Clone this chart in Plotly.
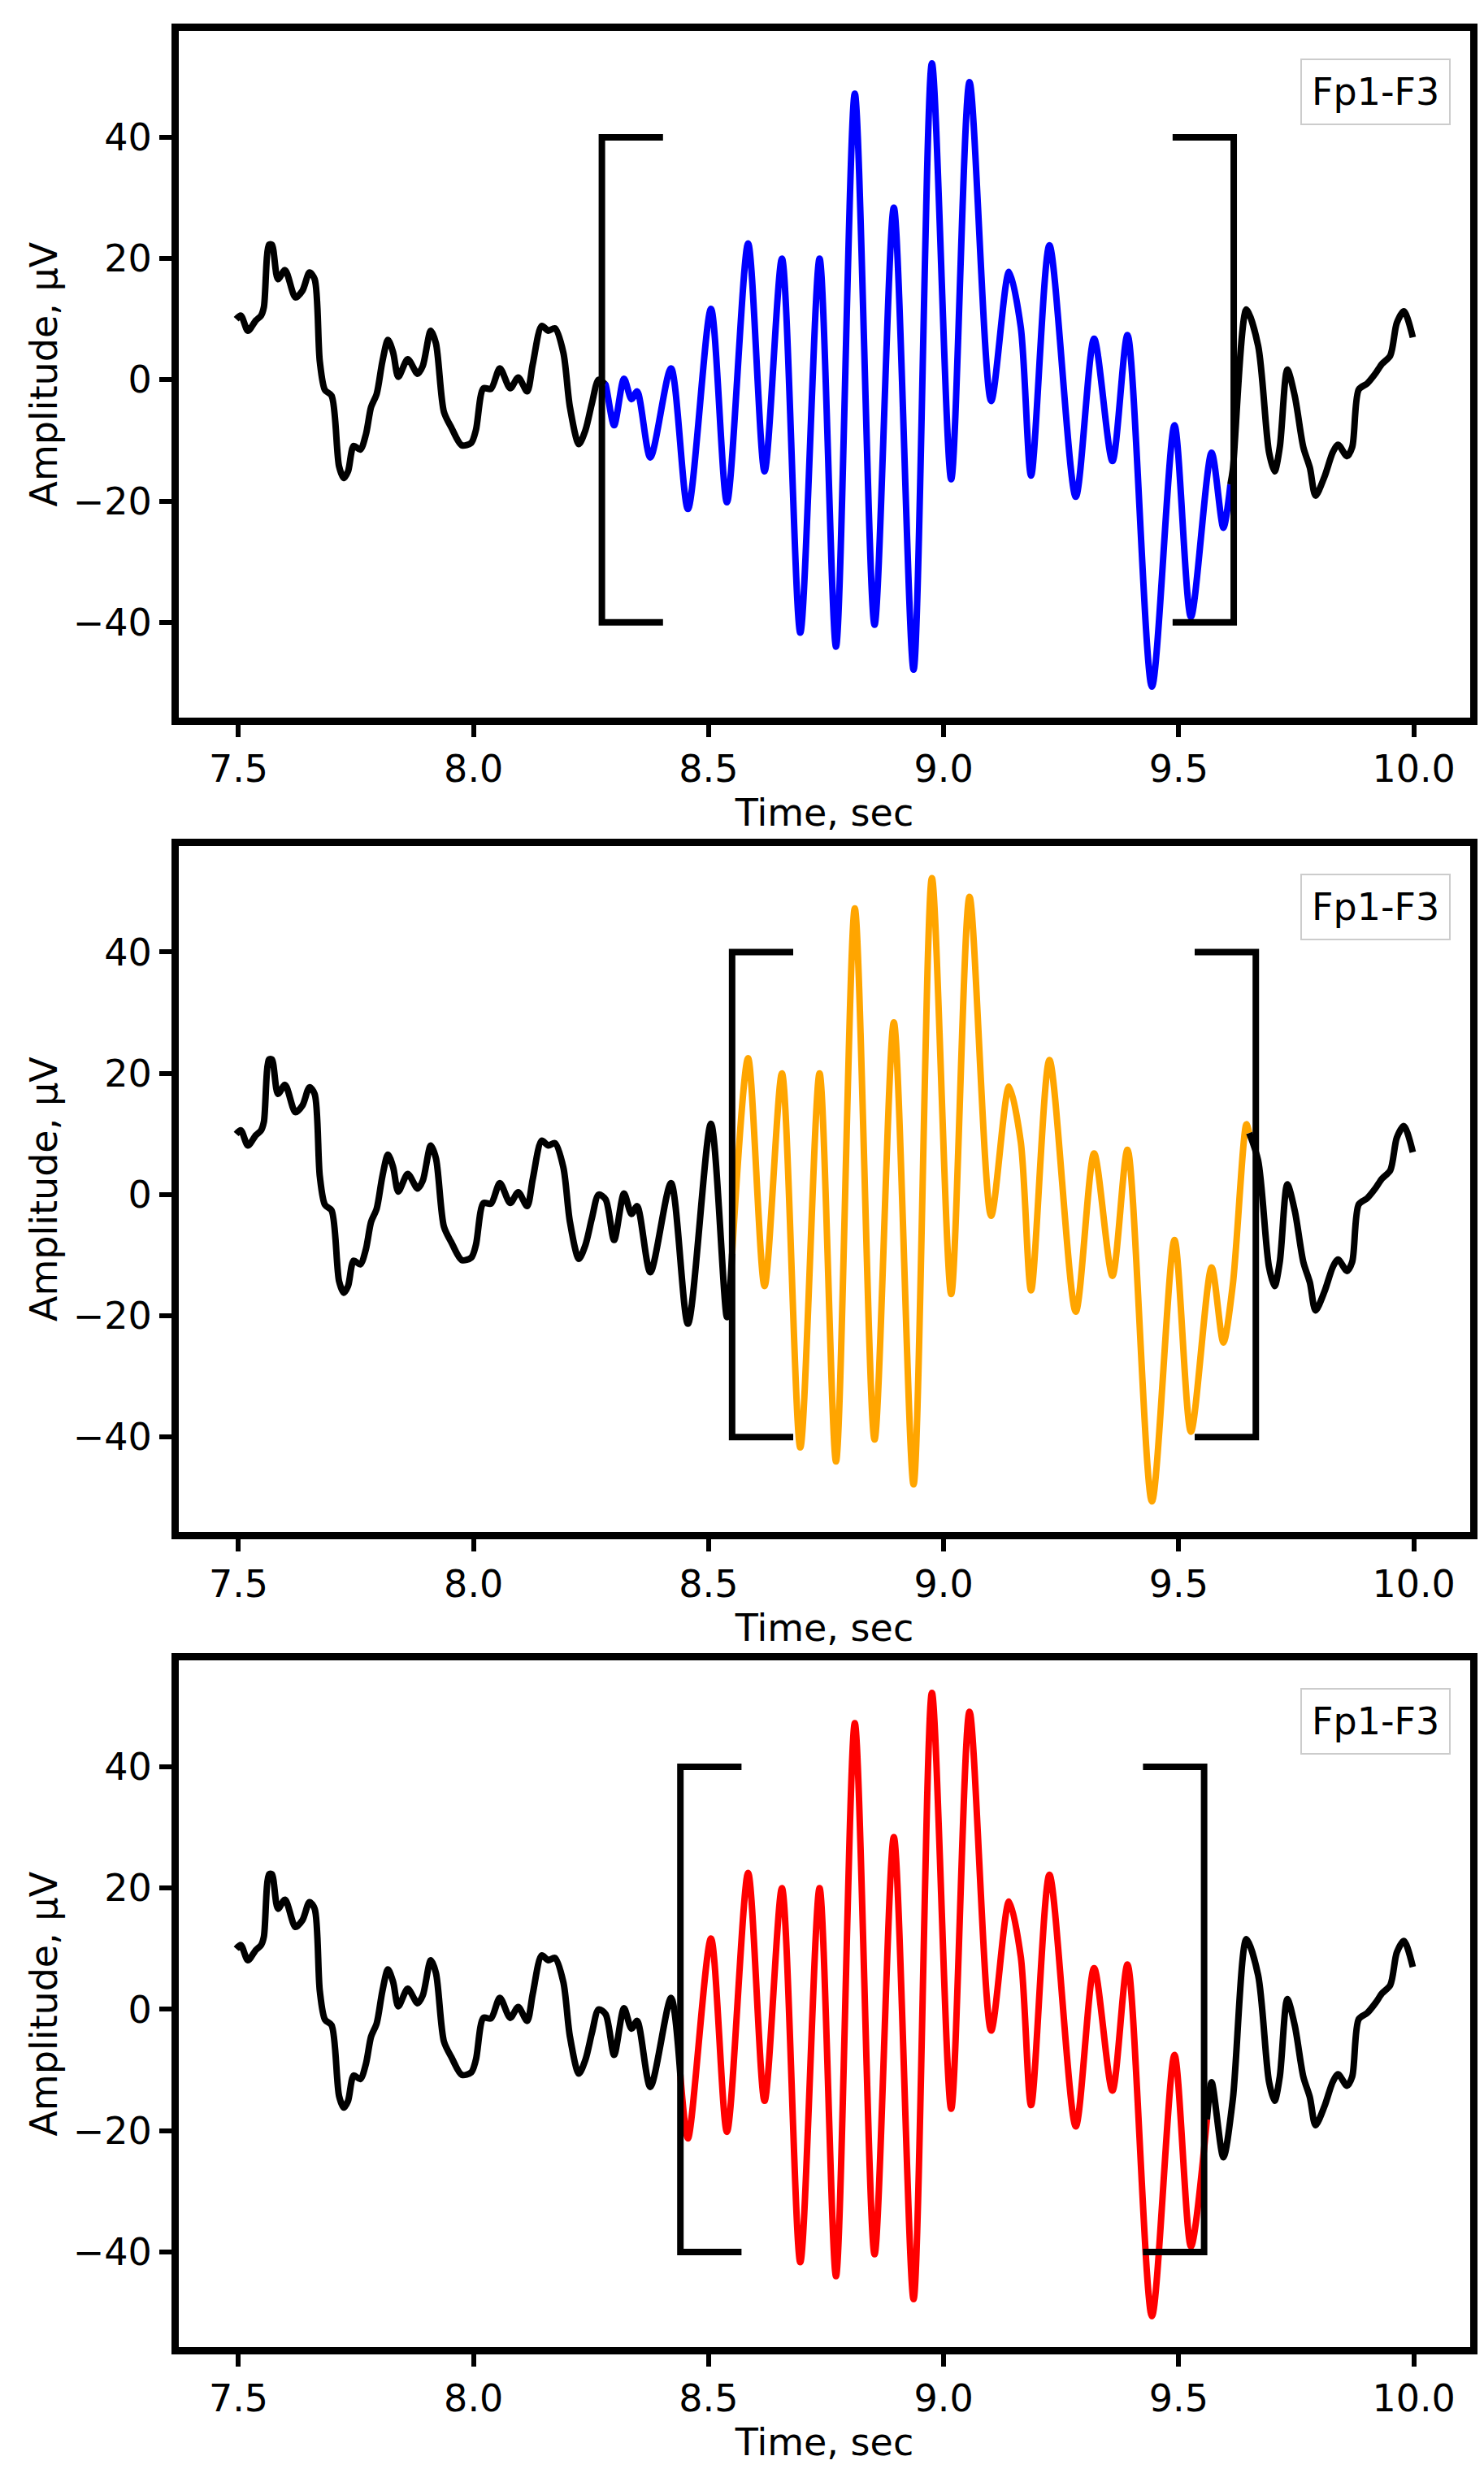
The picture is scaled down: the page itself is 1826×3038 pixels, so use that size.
import numpy as np
import plotly.graph_objects as go
from plotly.subplots import make_subplots

# EEG trace, Fp1-F3 (turning points)
t_sec = [7.495, 7.505, 7.52, 7.537, 7.548, 7.554, 7.565, 7.571, 7.584, 7.599, 7.621, 7.636,
         7.651, 7.662, 7.673, 7.684, 7.698, 7.714, 7.724, 7.733, 7.745, 7.759, 7.771, 7.782,
         7.794, 7.806, 7.818, 7.829, 7.84, 7.86, 7.881, 7.892, 7.909, 7.92, 7.937, 7.953,
         7.975, 7.995, 8.005, 8.021, 8.037, 8.056, 8.078, 8.095, 8.114, 8.126, 8.145, 8.159,
         8.173, 8.191, 8.205, 8.224, 8.238, 8.252, 8.266, 8.281, 8.299, 8.32, 8.336, 8.348,
         8.376, 8.42, 8.456, 8.505, 8.539, 8.584, 8.619, 8.656, 8.695, 8.736, 8.771, 8.811,
         8.853, 8.894, 8.936, 8.975, 9.016, 9.055, 9.101, 9.139, 9.164, 9.186, 9.225, 9.281,
         9.32, 9.359, 9.391, 9.443, 9.491, 9.526, 9.57, 9.595, 9.615, 9.644, 9.669, 9.692,
         9.704, 9.715, 9.731, 9.747, 9.765, 9.779, 9.791, 9.81, 9.828, 9.839, 9.858, 9.869,
         9.883, 9.901, 9.919, 9.932, 9.95, 9.964, 9.979, 9.998]
amp_uv = [10, 10.6, 8.1, 9.8, 10.6, 12, 22.3, 22.3, 16.6, 18.1, 13.6, 14.7,
          17.7, 16.6, 3, -1.7, -2.6, -14.3, -16.2, -15.1, -10.9, -11.5, -9, -4.5,
          -2.3, 3, 6.6, 4.5, 0.5, 3.4, 1, 2.3, 8.1, 6, -5.3, -7.9,
          -10.8, -10.4, -8.3, -1.4, -1.5, 1.9, -1.4, 0.4, -1.9, 2.6, 8.9, 8.1,
          8.5, 4.5, -4.5, -10.6, -8.3, -3.8, 0, -0.8, -7.5, 0.2, -3.2, -1.9,
          -12.8, 1.9, -21.3, 11.7, -20.2, 22.5, -15.1, 20, -41.7, 20, -44, 47.2,
          -40.4, 28.4, -47.8, 52.2, -16.4, 49.1, -3.5, 17.8, 8.7, -15.8, 22.2, -19.3,
          6.8, -13.4, 7.4, -50.6, -7.5, -39.1, -12, -24.4, -14.9, 11.6, 5.6, -11.9,
          -15.1, -11.1, 1.7, -2.7, -11.1, -14.5, -19.1, -16, -11.9, -10.7, -12.6, -11.1,
          -1.6, -0.6, 1.1, 2.6, 4, 9.4, 11.3, 7]

# highlighted windows (start, end) and bracket positions per panel
windows = [(8.28, 9.61), (8.55, 9.65), (8.44, 9.56)]
brackets = [(8.273, 9.617), (8.55, 9.664), (8.44, 9.554)]
colors = ["blue", "orange", "red"]
bracket_arm = 0.13
bracket_lim = [-40, 40]

t = np.array(t_sec)
a = np.array(amp_uv)

def segment(t0, t1):
    m = (t > t0) & (t < t1)
    ts = np.concatenate([[t0], t[m], [t1]])
    ys = np.concatenate([[np.interp(t0, t, a)], a[m], [np.interp(t1, t, a)]])
    return ts, ys

fig = make_subplots(rows=3, cols=1)
domains = [[0.712, 0.990], [0.382, 0.660], [0.052, 0.330]]
LW = 8

for i in range(3):
    row = i + 1
    w0, w1 = windows[i]
    for (s0, s1), c in [((t[0], w0), "black"), ((w0, w1), colors[i]), ((w1, t[-1]), "black")]:
        ts, ys = segment(s0, s1)
        fig.add_trace(go.Scatter(x=ts, y=ys, mode="lines", showlegend=False,
                                 line=dict(color=c, width=LW, shape="spline", smoothing=0.8)),
                      row=row, col=1)
    b0, b1 = brackets[i]
    lo, hi = bracket_lim
    fig.add_trace(go.Scatter(x=[b0 + bracket_arm, b0, b0, b0 + bracket_arm], y=[hi, hi, lo, lo],
                             mode="lines", showlegend=False,
                             line=dict(color="black", width=LW)), row=row, col=1)
    fig.add_trace(go.Scatter(x=[b1 - bracket_arm, b1, b1, b1 - bracket_arm], y=[hi, hi, lo, lo],
                             mode="lines", showlegend=False,
                             line=dict(color="black", width=LW)), row=row, col=1)

    fig.update_xaxes(row=row, col=1, range=[7.373, 10.12], tickvals=[7.5, 8.0, 8.5, 9.0, 9.5, 10.0],
                     ticktext=["7.5", "8.0", "8.5", "9.0", "9.5", "10.0"],
                     showline=True, linecolor="black", linewidth=9, mirror=True,
                     ticks="outside", ticklen=15, tickwidth=6, tickcolor="black",
                     showgrid=False, zeroline=False,
                     title=dict(text="Time, sec", standoff=0, font=dict(size=46)))
    fig.update_yaxes(row=row, col=1, range=[-55.7, 57.5], domain=domains[i],
                     tickvals=[-40, -20, 0, 20, 40], ticktext=["\u221240", "\u221220", "0", "20", "40"],
                     showline=True, linecolor="black", linewidth=9, mirror=True,
                     ticks="outside", ticklen=15, tickwidth=6, tickcolor="black",
                     showgrid=False, zeroline=False,
                     title=dict(text="Amplitude, \u03bcV", standoff=8, font=dict(size=46)))
    xref = "x" if i == 0 else f"x{row}"
    yref = "y" if i == 0 else f"y{row}"
    fig.add_annotation(x=0.985, y=0.96, xref=f"{xref} domain", yref=f"{yref} domain",
                       xanchor="right", yanchor="top", text="Fp1-F3", showarrow=False,
                       font=dict(size=46, color="black"), bordercolor="#cccccc",
                       borderwidth=2, borderpad=12, bgcolor="white")

fig.update_layout(width=1826, height=3038, plot_bgcolor="white", paper_bgcolor="white",
                  margin=dict(l=212, r=25, t=0, b=0),
                  font=dict(family="DejaVu Sans", size=46, color="black"))

fig.write_html("out.html")
